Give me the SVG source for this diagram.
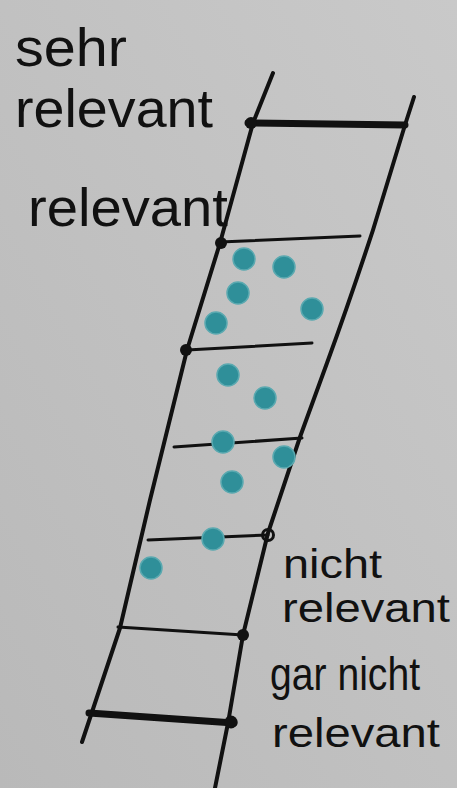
<svg xmlns="http://www.w3.org/2000/svg" width="457" height="788" viewBox="0 0 457 788">
<defs>
<linearGradient id="bg" x1="0" y1="1" x2="1" y2="0">
<stop offset="0" stop-color="#b9b9b9"/>
<stop offset="1" stop-color="#c9c9c9"/>
</linearGradient>
<style>
.rail{fill:none;stroke:#111;stroke-width:4;stroke-linecap:round;stroke-linejoin:round}
.rung{fill:none;stroke:#111;stroke-width:3;stroke-linecap:round}
.thick{fill:none;stroke:#111;stroke-width:7;stroke-linecap:round}
.knot{fill:#111}
.dot{fill:#2f8f99;stroke:#5aa9b0;stroke-width:1.5}
.lbl{font-family:"Liberation Sans","DejaVu Sans",sans-serif;fill:#111;font-size:53px}
.sm{font-size:40px}
</style>
</defs>
<rect width="457" height="788" fill="url(#bg)"/>
<g id="connectors">
<path class="rail" d="M273,73 L253,123 L220,243 L187,350 L150,500 L120,628 L92,712 L82,742"/>
<path class="rail" d="M414,97 L405,125 L373,230 Q350,300 327,363 L300,437 L268,533 L243,635 L228,723 L215,788"/>
<path class="thick" d="M248,123 L405,125"/>
<path class="rung" d="M220,242 L360,236"/>
<path class="rung" d="M187,350 L312,343"/>
<path class="rung" d="M174,447 L302,438"/>
<path class="rung" d="M148,540 L268,535"/>
<path class="rung" d="M118,627 L243,635"/>
<path class="thick" d="M89,713 L234,723"/>
</g>
<g id="knots">
<circle class="knot" cx="251" cy="123" r="6"/>
<circle class="knot" cx="221" cy="243" r="6"/>
<circle class="knot" cx="186" cy="350" r="6"/>
<circle cx="268" cy="535" r="5.5" fill="none" stroke="#111" stroke-width="3"/>
<circle class="knot" cx="243" cy="635" r="6"/>
<circle class="knot" cx="231" cy="722" r="6.5"/>
</g>
<g id="dots">
<circle class="dot" cx="244" cy="259" r="11"/>
<circle class="dot" cx="284" cy="267" r="11"/>
<circle class="dot" cx="238" cy="293" r="11"/>
<circle class="dot" cx="312" cy="309" r="11"/>
<circle class="dot" cx="216" cy="323" r="11"/>
<circle class="dot" cx="228" cy="375" r="11"/>
<circle class="dot" cx="265" cy="398" r="11"/>
<circle class="dot" cx="223" cy="442" r="11"/>
<circle class="dot" cx="284" cy="457" r="11"/>
<circle class="dot" cx="232" cy="482" r="11"/>
<circle class="dot" cx="213" cy="539" r="11"/>
<circle class="dot" cx="151" cy="568" r="11"/>
</g>
<g id="label-sehr-relevant">
<text class="lbl" x="15" y="66" textLength="112" lengthAdjust="spacingAndGlyphs">sehr</text>
<text class="lbl" x="15" y="127" textLength="198" lengthAdjust="spacingAndGlyphs">relevant</text>
</g>
<g id="label-relevant">
<text class="lbl" x="28" y="226" textLength="200" lengthAdjust="spacingAndGlyphs">relevant</text>
</g>
<g id="label-nicht-relevant">
<text class="lbl sm" x="283" y="578" textLength="99" lengthAdjust="spacingAndGlyphs">nicht</text>
<text class="lbl sm" x="282" y="622" textLength="168" lengthAdjust="spacingAndGlyphs">relevant</text>
</g>
<g id="label-gar-nicht-relevant">
<text class="lbl sm" x="270" y="690" font-size="46" style="font-size:46px" textLength="150" lengthAdjust="spacingAndGlyphs">gar nicht</text>
<text class="lbl sm" x="272" y="747" textLength="168" lengthAdjust="spacingAndGlyphs">relevant</text>
</g>
</svg>
